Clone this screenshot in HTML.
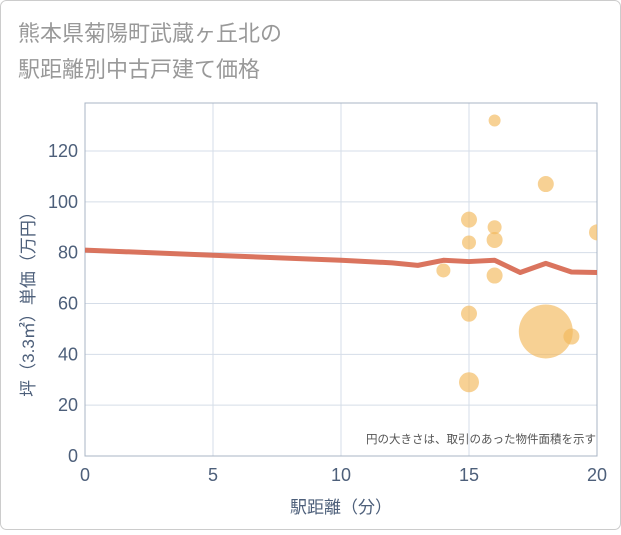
<!DOCTYPE html>
<html><head><meta charset="utf-8"><style>
body{margin:0;background:#fff;}
svg text{font-family:"Liberation Sans","Noto Sans CJK JP",sans-serif;}
</style></head><body>
<svg width="621" height="530" id="c">
<defs><clipPath id="pc"><rect x="85" y="103" width="512" height="353"/></clipPath></defs>
<rect x="0.5" y="0.5" width="620" height="529" rx="6" fill="#fff" stroke="#ccc"/>
<text x="18" y="41" font-size="22" fill="#999">熊本県菊陽町武蔵ヶ丘北の</text>
<text x="18" y="77" font-size="22" fill="#999">駅距離別中古戸建て価格</text>
<g id="grid"></g>
<g id="marks" clip-path="url(#pc)"></g>
<text x="596" y="443" font-size="11.5" fill="#555" text-anchor="end">円の大きさは、取引のあった物件面積を示す</text>
<text x="341" y="513" font-size="17" fill="#4d5f7a" text-anchor="middle">駅距離（分）</text>
<text transform="translate(34,300) rotate(-90)" font-size="17" fill="#4d5f7a" text-anchor="middle">坪（3.3㎡）単価（万円）</text>
</svg>
<script>
const xTicks=[0,5,10,15,20];
const yTicks=[0,20,40,60,80,100,120];
const lineX=[0,5,10,12,13,14,15,16,17,18,19,20];
const lineY=[81,79,77,76,75,77,76.5,77,72.2,75.8,72.4,72.2];
const ptX=[16,18,15,16,15,16,20,14,16,15,18,19,15];
const ptY=[132,107,93,90,84,85,88,73,71,56,49,47,29];
const ptR=[6,8,8,7,7,8,8,7,8,8,27,8,10];
const L=85,R=597,T=103,B=456;
const sx=v=>L+(v-0)/20*(R-L);
const sy=v=>B-v*(305/120);
const ns="http://www.w3.org/2000/svg";
const g=document.getElementById('grid'),m=document.getElementById('marks');
function mk(t,a,p){const e=document.createElementNS(ns,t);for(const k in a)e.setAttribute(k,a[k]);p.appendChild(e);return e;}
xTicks.forEach(v=>{
 const l=mk('line',{x1:sx(v),x2:sx(v),y1:T,y2:B,stroke:'#d5dde8'},g);
 
 
 const t=mk('text',{x:sx(v),y:B+25,'font-size':18,fill:'#4d5f7a','text-anchor':'middle'},g);t.textContent=v;
 
 
});
yTicks.forEach(v=>{
 const l=mk('line',{x1:L,x2:R,y1:sy(v),y2:sy(v),stroke:'#d5dde8'},g);
 
 
 const t=mk('text',{x:L-7,y:sy(v)+6,'font-size':18,fill:'#4d5f7a','text-anchor':'end'},g);t.textContent=v;
 
 
});
const fr=mk('rect',{x:L,y:T,width:R-L,height:B-T,fill:'none',stroke:'#a8b4c4'},g);


const pl=mk('polyline',{points:lineX.map((x,i)=>sx(x)+','+sy(lineY[i])).join(' '),fill:'none',stroke:'#d6654d','stroke-width':5,'stroke-opacity':0.9,'stroke-linejoin':'round'},m);


ptX.forEach((x,i)=>{
 const c=mk('circle',{cx:sx(x),cy:sy(ptY[i]),r:ptR[i],fill:'#f2b85a','fill-opacity':0.65},m);
 
 
});
</script>
</body></html>
